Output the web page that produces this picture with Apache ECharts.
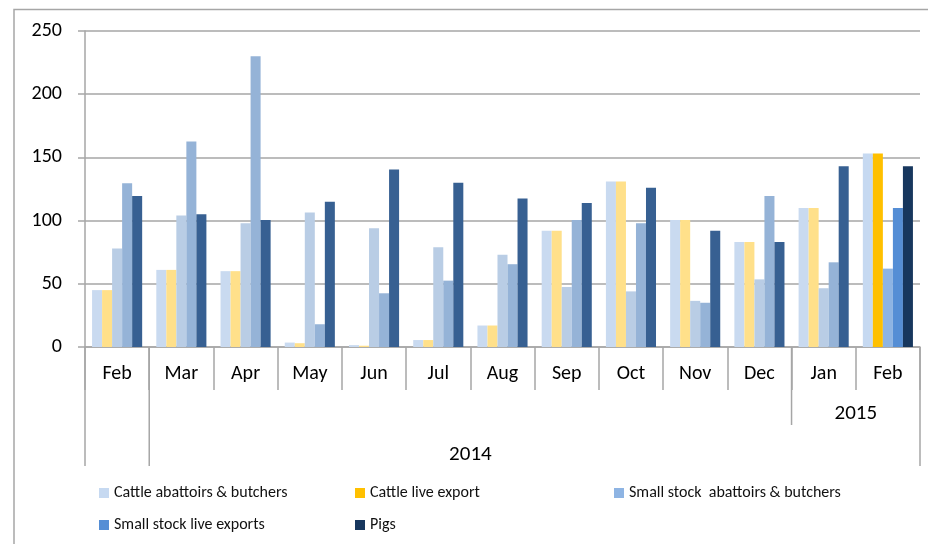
<!DOCTYPE html>
<html>
<head>
<meta charset="utf-8">
<script src="https://cdn.jsdelivr.net/npm/echarts@6/dist/echarts.min.js"></script>
<style>
html,body{margin:0;padding:0;background:#fff;}
#main{width:928px;height:544px;}
</style>
</head>
<body>
<div id="main"></div>
<script>
// ---- data ----
const months = ['Feb','Mar','Apr','May','Jun','Jul','Aug','Sep','Oct','Nov','Dec','Jan','Feb'];
const seriesNames = ['Cattle abattoirs & butchers','Cattle live export','Small stock  abattoirs & butchers','Small stock live exports','Pigs'];
const cattleAbattoirs   = [45, 61, 60, 3.5, 1.5, 5.5, 17, 92, 131, 100.5, 83, 110, 153];
const cattleLiveExport  = [45, 61, 60, 3, 1, 5.5, 17, 92, 131, 100.5, 83, 110, 153];
const smallStockAbatt   = [78, 104, 98, 106.5, 94, 79, 73, 47.5, 44, 36.5, 53.5, 46.5, 62];
const smallStockLive    = [129.5, 162.5, 230, 18, 42.5, 52.5, 65.5, 100.5, 98, 35, 119.5, 67, 110];
const pigs              = [119.5, 105, 100.5, 115, 140.5, 130, 117.5, 114, 126, 92, 83, 143, 143];
const yTicks = [0, 50, 100, 150, 200, 250];
const yearGroups = [{label:'2014', from:1, to:10}, {label:'2015', from:11, to:12}];

// ---- styles ----
const FONT = 'Carlito, "Liberation Sans", Arial, sans-serif';
const strongColors = ['#c6d9f1','#ffc000','#8eb4e3','#558ed5','#17375e'];
const fadedColors  = ['#c9daf0','#ffe08a','#b9cde5','#95b3d7','#376092'];
const GRID_COLOR = '#a6a6a6';
const allValues = [cattleAbattoirs, cattleLiveExport, smallStockAbatt, smallStockLive, pigs];
const highlightIndex = months.length - 1;

const chart = echarts.init(document.getElementById('main'));

const series = allValues.map((vals, s) => ({
  name: seriesNames[s],
  type: 'bar',
  barGap: '0%',
  barCategoryGap: '22%',
  itemStyle: { color: strongColors[s] },
  data: vals.map((v, i) => i === highlightIndex ? { value: v } : { value: v, itemStyle: { color: fadedColors[s] } })
}));

const legendPos = [[101, 485], [357, 485], [616, 485], [101, 517], [357, 517]];
const legends = seriesNames.map((n, s) => ({
  show: true,
  data: [n],
  left: legendPos[s][0] - 2,
  top: legendPos[s][1],
  padding: 0,
  icon: 'rect',
  itemWidth: 10,
  itemHeight: 10,
  selectedMode: false,
  textStyle: { fontFamily: FONT, fontSize: 16, color: '#111' }
}));

chart.setOption({
  animation: false,
  backgroundColor: '#fff',
  grid: { left: 85, right: 8, top: 31, bottom: 197, containLabel: false },
  legend: legends,
  xAxis: {
    type: 'category',
    data: months,
    boundaryGap: true,
    axisLine: { show: true, lineStyle: { color: GRID_COLOR, width: 1.5 } },
    axisTick: { show: true, length: 43, interval: 0, lineStyle: { color: GRID_COLOR, width: 1.5 } },
    axisLabel: { interval: 0, margin: 17, fontFamily: FONT, fontSize: 20, color: '#000' }
  },
  yAxis: {
    type: 'value',
    min: yTicks[0],
    max: yTicks[yTicks.length - 1],
    interval: yTicks[1] - yTicks[0],
    axisLine: { show: true, lineStyle: { color: GRID_COLOR, width: 1.5 } },
    axisTick: { show: true, length: 7, lineStyle: { color: GRID_COLOR, width: 1.5 } },
    splitLine: { show: true, lineStyle: { color: GRID_COLOR, width: 1.5 } },
    axisLabel: { margin: 23, fontFamily: FONT, fontSize: 20, color: '#000' }
  },
  series: series
});

// ---- multi-level axis decorations, positioned from the library's scale ----
const c0 = chart.convertToPixel({ xAxisIndex: 0 }, 0);
const c1 = chart.convertToPixel({ xAxisIndex: 0 }, 1);
const bw = c1 - c0;
const leftOf = i => chart.convertToPixel({ xAxisIndex: 0 }, i) - bw / 2;
const rightOf = i => chart.convertToPixel({ xAxisIndex: 0 }, i) + bw / 2;
const y0 = chart.convertToPixel({ yAxisIndex: 0 }, 0);

const lineStyle = { stroke: GRID_COLOR, lineWidth: 1.5 };
const vline = (x, y2) => ({ type: 'line', silent: true, shape: { x1: x, y1: y0, x2: x, y2: y2 }, style: lineStyle });

const graphics = [
  { type: 'polyline', silent: true, shape: { points: [[14, 544], [14, 9.5], [928, 9.5]] }, style: { stroke: GRID_COLOR, lineWidth: 1.5, fill: null } },
  vline(leftOf(0), 466),
  vline(leftOf(1), 466),
  vline(rightOf(months.length - 1), 466),
  vline(leftOf(11), 425)
];
const yearY = { '2014': 455, '2015': 414 };
yearGroups.forEach(g => {
  const cx = (leftOf(g.from) + rightOf(g.to)) / 2;
  graphics.push({
    type: 'text', silent: true, x: cx, y: yearY[g.label],
    style: { text: g.label, fontFamily: FONT, fontSize: 21, fill: '#000', align: 'center', verticalAlign: 'middle' }
  });
});
chart.setOption({ graphic: graphics });
</script>
</body>
</html>
